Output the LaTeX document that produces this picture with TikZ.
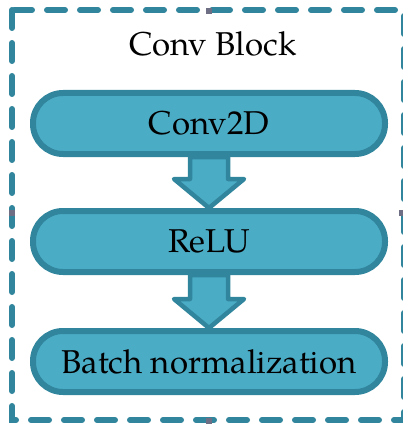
\documentclass[tikz,border=0pt]{standalone}
\usepackage{fontspec}
\setmainfont{TeX Gyre Pagella}
\usetikzlibrary{backgrounds,calc}
\definecolor{aquafill}{HTML}{4BACC6}
\definecolor{aquaedge}{HTML}{31859C}
\definecolor{handlegrey}{HTML}{6E6E84}
\tikzset{
  stage/.style={draw=aquaedge, fill=aquafill, line width=6pt,
    rounded corners=30pt, minimum width=352pt, minimum height=61pt,
    inner sep=0pt, font=\fontsize{33}{40}\selectfont},
  flowarrow/.style={draw=aquaedge, fill=aquafill, line width=4.5pt, line join=round},
  frame/.style={draw=aquaedge, line width=6pt, dash pattern=on 18pt off 15pt, line cap=round},
  handle/.style={fill=handlegrey, draw=none, minimum size=6pt, inner sep=0pt},
  caption/.style={font=\fontsize{33}{40}\selectfont}
}
\begin{document}
\begin{tikzpicture}[x=1pt, y=-1pt]
  \useasboundingbox (0,0) rectangle (403,425);
  % dashed block outline
  \draw[frame] (12,10) rectangle (404,420);
  \node[handle] (hTop) at (209,11) {};
  \node[handle] (hLeft) at (12,213) {};
  \node[handle] (hBottom) at (209,421) {};
  \node[handle] (hRight) at (402,213) {};
  \node[caption] (title) at (213,44) {Conv Block};
  % layers
  \node[stage] (conv) at (209,123.5) {Conv2D};
  \node[stage] (relu) at (209,241.5) {ReLU};
  \node[stage] (bn) at (209,361.5) {Batch normalization};
  % block arrows between layers
  \begin{pgfonlayer}{background}
    \foreach \a/\b in {conv/relu, relu/bn} {
      \draw[flowarrow] let \p1=(\a.south), \p2=(\b.north) in
        (\x1-19pt,\y1) -- (\x1-19pt,\y2+29pt) -- (\x1-35pt,\y2+29pt) --
        (\x1,\y2) -- (\x1+35pt,\y2+29pt) -- (\x1+19pt,\y2+29pt) --
        (\x1+19pt,\y1) -- cycle;
    }
  \end{pgfonlayer}
\end{tikzpicture}
\end{document}
